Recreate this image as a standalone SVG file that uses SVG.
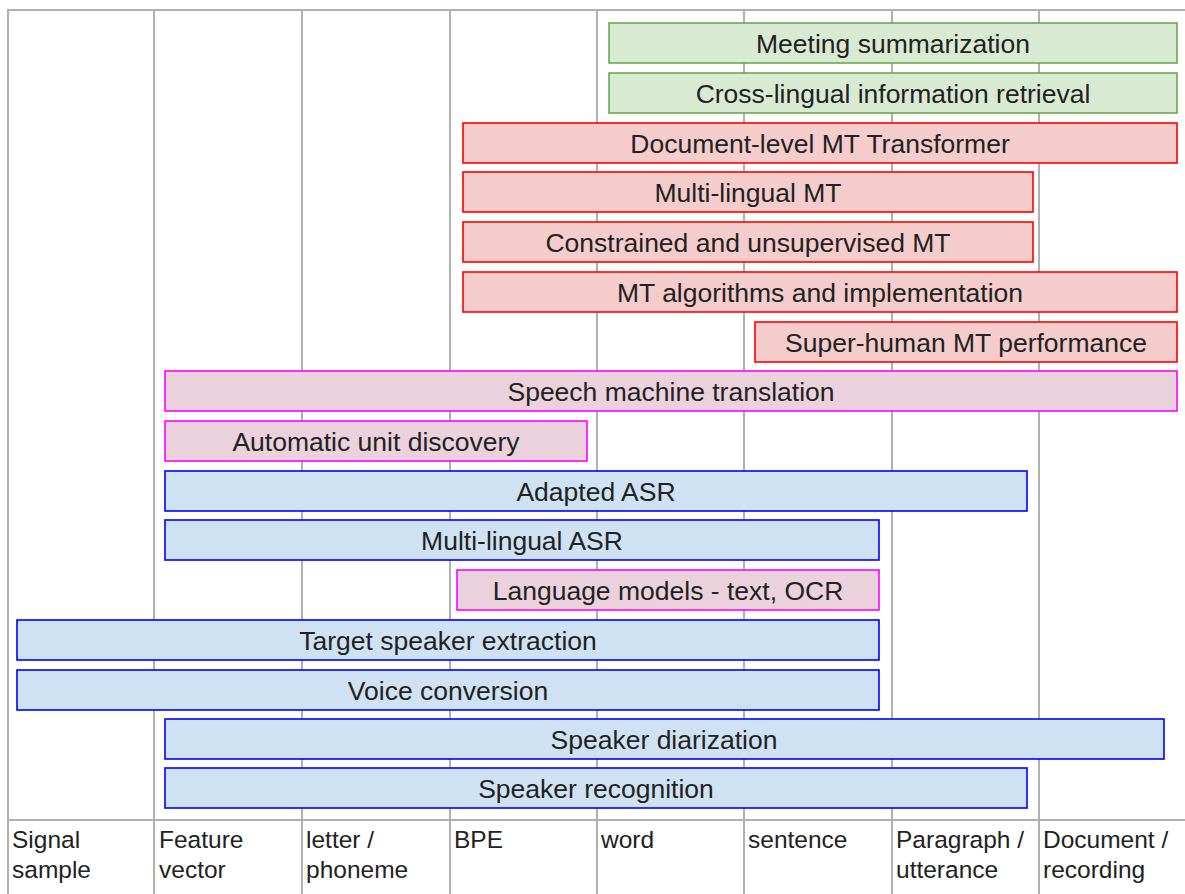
<svg xmlns="http://www.w3.org/2000/svg" width="1185" height="894" viewBox="0 0 1185 894">
<style>
.grid{stroke:#b0b0b0;stroke-width:2;fill:none}
.box{stroke-width:1.6}
.g{fill:#d9ead3;stroke:#6aa84f}
.r{fill:#f4cccc;stroke:#ff0000}
.m{fill:#ead1dc;stroke:#ff00ff}
.b{fill:#cfe2f3;stroke:#0000ff}
.t{font-family:"Liberation Sans",Arial,sans-serif;font-size:26.5px;fill:#222;text-anchor:middle}
.ax{font-family:"Liberation Sans",Arial,sans-serif;font-size:24.5px;fill:#222}
</style>
<rect x="0" y="0" width="1185" height="894" fill="#fff"/>
<g id="grid" class="grid">
<line x1="7" y1="10" x2="1185" y2="10"/>
<line x1="7" y1="820" x2="1185" y2="820"/>
<line x1="8" y1="10" x2="8" y2="894"/>
<line x1="154" y1="10" x2="154" y2="894"/>
<line x1="302" y1="10" x2="302" y2="894"/>
<line x1="450" y1="10" x2="450" y2="894"/>
<line x1="597" y1="10" x2="597" y2="894"/>
<line x1="744" y1="10" x2="744" y2="894"/>
<line x1="892" y1="10" x2="892" y2="894"/>
<line x1="1039" y1="10" x2="1039" y2="894"/>
</g>
<g id="connectors"></g>
<g id="n0"><rect class="box g" x="609" y="23" width="568" height="40"/><text class="t" x="893" y="52.5">Meeting summarization</text></g>
<g id="n1"><rect class="box g" x="609" y="73" width="568" height="40"/><text class="t" x="893" y="102.5">Cross-lingual information retrieval</text></g>
<g id="n2"><rect class="box r" x="463" y="123" width="714" height="40"/><text class="t" x="820" y="152.5">Document-level MT Transformer</text></g>
<g id="n3"><rect class="box r" x="463" y="172" width="570" height="40"/><text class="t" x="748" y="201.5">Multi-lingual MT</text></g>
<g id="n4"><rect class="box r" x="463" y="222" width="570" height="40"/><text class="t" x="748" y="251.5">Constrained and unsupervised MT</text></g>
<g id="n5"><rect class="box r" x="463" y="272" width="714" height="40"/><text class="t" x="820" y="301.5">MT algorithms and implementation</text></g>
<g id="n6"><rect class="box r" x="755" y="322" width="422" height="40"/><text class="t" x="966" y="351.5">Super-human MT performance</text></g>
<g id="n7"><rect class="box m" x="165" y="371" width="1012" height="40"/><text class="t" x="671" y="400.5">Speech machine translation</text></g>
<g id="n8"><rect class="box m" x="165" y="421" width="422" height="40"/><text class="t" x="376" y="450.5">Automatic unit discovery</text></g>
<g id="n9"><rect class="box b" x="165" y="471" width="862" height="40"/><text class="t" x="596" y="500.5">Adapted ASR</text></g>
<g id="n10"><rect class="box b" x="165" y="520" width="714" height="40"/><text class="t" x="522" y="549.5">Multi-lingual ASR</text></g>
<g id="n11"><rect class="box m" x="457" y="570" width="422" height="40"/><text class="t" x="668" y="599.5">Language models - text, OCR</text></g>
<g id="n12"><rect class="box b" x="17" y="620" width="862" height="40"/><text class="t" x="448" y="649.5">Target speaker extraction</text></g>
<g id="n13"><rect class="box b" x="17" y="670" width="862" height="40"/><text class="t" x="448" y="699.5">Voice conversion</text></g>
<g id="n14"><rect class="box b" x="165" y="719" width="999" height="40"/><text class="t" x="664" y="748.5">Speaker diarization</text></g>
<g id="n15"><rect class="box b" x="165" y="768" width="862" height="40"/><text class="t" x="596" y="797.5">Speaker recognition</text></g>
<g id="axis">
<text class="ax" x="12" y="848">Signal</text><text class="ax" x="12" y="878">sample</text>
<text class="ax" x="159" y="848">Feature</text><text class="ax" x="159" y="878">vector</text>
<text class="ax" x="306" y="848">letter /</text><text class="ax" x="306" y="878">phoneme</text>
<text class="ax" x="454" y="848">BPE</text>
<text class="ax" x="601" y="848">word</text>
<text class="ax" x="748" y="848">sentence</text>
<text class="ax" x="896" y="848">Paragraph /</text><text class="ax" x="896" y="878">utterance</text>
<text class="ax" x="1043" y="848">Document /</text><text class="ax" x="1043" y="878">recording</text>
</g>
</svg>
